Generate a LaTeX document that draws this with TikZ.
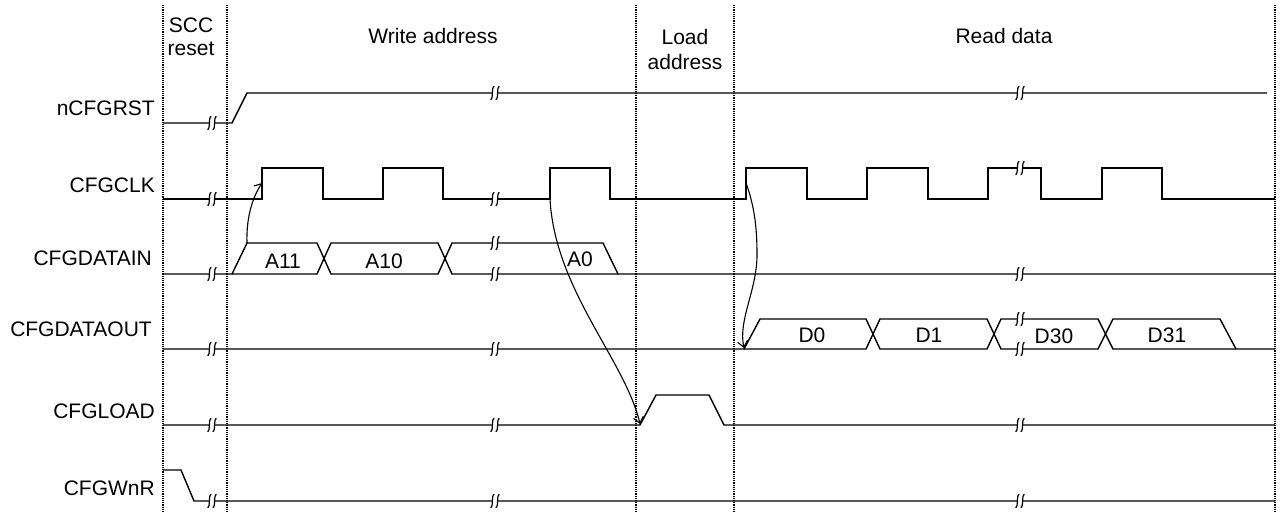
\documentclass[tikz,border=0pt]{standalone}
\usepackage{fontspec}
\setmainfont{Liberation Sans}
\usetikzlibrary{arrows.meta}
\begin{document}
\begin{tikzpicture}[x=1pt,y=-1pt,
  sig/.style={line width=1.4pt, line join=miter},
  divider/.style={line width=1.6pt, dash pattern=on 1.1pt off 1.1pt},
  lbl/.style={anchor=base east, inner sep=0pt, font=\fontsize{21}{24}\selectfont},
  txt/.style={anchor=base, inner sep=0pt, font=\fontsize{21}{24}\selectfont},
  arr/.style={line width=1.1pt, -{Straight Barb[length=6pt,width=10pt]}},
  brk/.pic={
    \fill[white] (-2.8,-3) rectangle (2.8,3);
    \foreach \d in {-2.6,2.6} {
      \draw[line width=1.2pt] (\d+2,-6.5) .. controls (\d-1.4,-7) and (\d+1.4,7) .. (\d-2,6.5);
    }
  }]
\useasboundingbox (0,0) rectangle (1286,515);

% dividers
\foreach \x in {163,227,636,734,1275} \draw[divider] (\x,5) -- (\x,512);

% headings
\node[txt] (h1a) at (191,32) {SCC};
\node[txt] (h1b) at (191,55) {reset};
\node[txt] (h2) at (433,43) {Write address};
\node[txt] (h3a) at (685,44) {Load};
\node[txt] (h3b) at (685,69) {address};
\node[txt] (h4) at (1004,43) {Read data};

% signal names
\node[lbl] (n1) at (155,115) {nCFGRST};
\node[lbl] (n2) at (155,192) {CFGCLK};
\node[lbl] (n3) at (152,265) {CFGDATAIN};
\node[lbl] (n4) at (152,336) {CFGDATAOUT};
\node[lbl] (n5) at (155,418) {CFGLOAD};
\node[lbl] (n6) at (155,495) {CFGWnR};

% nCFGRST
\draw[sig] (163,123) -- (232,123) -- (247,93) -- (1267,93);
% CFGCLK
\draw[sig] (163,199) -- (262,199) -- (262,168) -- (323,168) -- (323,199) -- (383,199) -- (383,168) -- (443,168) -- (443,199)
  -- (550,199) -- (550,168) -- (610,168) -- (610,199) -- (746,199) -- (746,168) -- (807,168) -- (807,199)
  -- (867,199) -- (867,168) -- (928,168) -- (928,199) -- (988,199) -- (988,168) -- (1041,168) -- (1041,199)
  -- (1102,199) -- (1102,168) -- (1162,168) -- (1162,199) -- (1275,199);
% CFGDATAIN
\draw[sig] (163,274) -- (232,274) -- (247,243) -- (317,243) -- (331,274) -- (438,274) -- (452,243) -- (603,243) -- (618,274) -- (1275,274);
\draw[sig] (232,274) -- (317,274) -- (331,243) -- (438,243) -- (452,274) -- (618,274);
% CFGDATAOUT
\draw[sig] (163,349) -- (744,349) -- (760,319) -- (866,319) -- (880,349) -- (987,349) -- (1001,319) -- (1098,319) -- (1113,349) -- (1275,349);
\draw[sig] (744,349) -- (866,349) -- (880,319) -- (987,319) -- (1001,349) -- (1098,349) -- (1113,319) -- (1220,319) -- (1236,349);
% CFGLOAD
\draw[sig] (163,425) -- (640,425) -- (656,395) -- (709,395) -- (724,425) -- (1275,425);
% CFGWnR
\draw[sig] (163,470) -- (181,470) -- (194,501) -- (1275,501);

% bus labels
\node[txt] (a11) at (283,268) {A11};
\node[txt] (a10) at (384,268) {A10};
\node[txt] (a0) at (580,266) {A0};
\node[txt] (d0) at (812,342) {D0};
\node[txt] (d1) at (929,342) {D1};
\node[txt] (d30) at (1054,343) {D30};
\node[txt] (d31) at (1167,342) {D31};

% break marks
\foreach \y in {123,199,274,349,425,501} \pic at (212,\y) {brk};
\foreach \y in {93,199,243,274,349,425,501} \pic at (495,\y) {brk};
\foreach \y in {93,168,274,319,349,425,501} \pic at (1020,\y) {brk};

% arrows
\coordinate (s1) at (247,243);
\coordinate (e1) at (262,183);
\coordinate (s2) at (550,199);
\coordinate (e2) at (640,424);
\coordinate (s3) at (746,183);
\coordinate (m3) at (757,255);
\coordinate (e3) at (744,348);
\draw[arr] (s1) .. controls (246,215) and (254,195) .. (e1);
\draw[arr] (s2) .. controls (555,290) and (625,360) .. (e2);
\draw[arr] (s3) .. controls (756,210) and (757,235) .. (m3) .. controls (757,290) and (738,320) .. (e3);
\end{tikzpicture}
\end{document}
